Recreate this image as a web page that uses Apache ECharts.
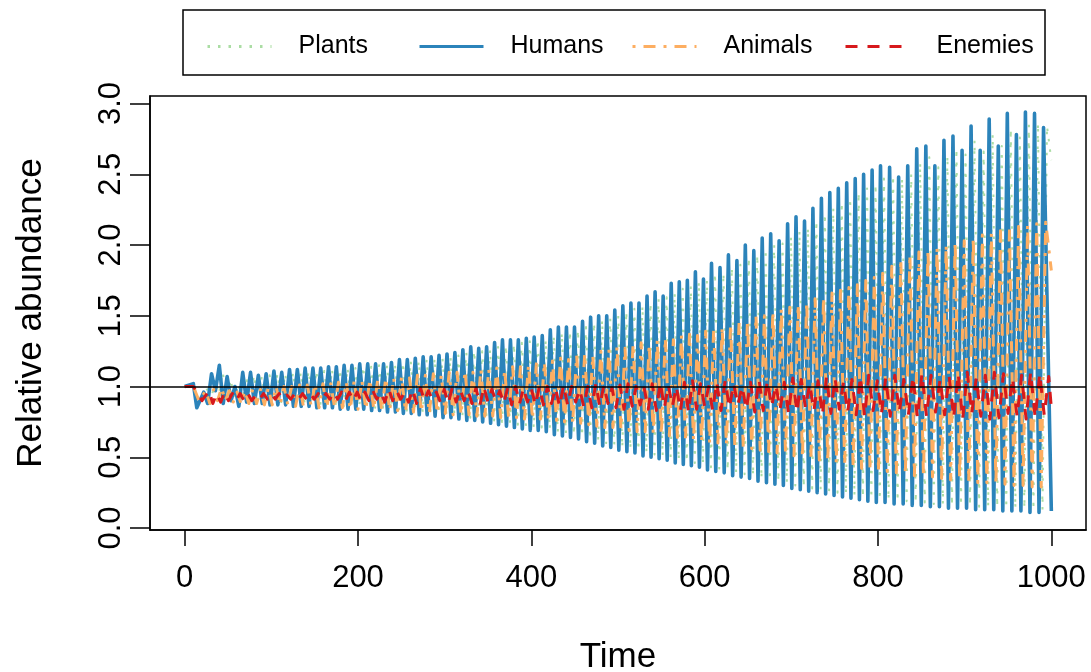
<!DOCTYPE html>
<html>
<head>
<meta charset="utf-8">
<title>Relative abundance over time</title>
<script src="https://cdn.jsdelivr.net/npm/echarts@6/dist/echarts.min.js"></script>
<style>
  html, body { margin: 0; padding: 0; background: #ffffff; }
  #chart { width: 1091px; height: 672px; }
</style>
</head>
<body>
<div id="chart"></div>
<script>
// Times of the human population peaks (one entry per cycle)
const peakTime = [
  22, 31, 40, 49, 58, 67, 76, 85, 94, 103, 112, 121, 130, 139, 148, 157, 166, 175, 184, 193, 202,
  211.2, 220.3, 229.5, 238.6, 247.8, 256.9, 266.1, 275.2, 284.4, 293.5, 302.7, 311.8, 321, 330.1, 339.3, 348.4, 357.6, 366.7, 375.9, 385, 394.2, 403.3,
  412.6, 421.9, 431.2, 440.5, 449.8, 459.1, 468.4, 477.7, 487, 496.3, 505.6, 514.9, 524.2, 533.5, 542.8, 552.1, 561.4, 570.7, 580, 589.3, 598.6, 607.9,
  617.7, 627.4, 637.2, 646.9, 656.7, 666.4, 676.2, 685.9, 695.7, 705.4, 715.2, 724.9, 734.7, 744.4, 754.2, 763.9, 773.7, 783.4, 793.2, 802.9,
  813.4, 823.8, 834.3, 844.7, 855.2, 865.6, 876.1, 886.5, 897, 907.4, 917.9, 928.3, 938.8, 949.2, 959.7, 970.1, 980.6, 991
];

// Humans: cycle maxima and the minima that precede them
const humansPeak = [
  0.96, 1.09, 1.15, 1.07, 1.0, 1.1, 1.1, 1.08, 1.09, 1.11, 1.1, 1.12, 1.12, 1.13, 1.13, 1.13, 1.14, 1.14, 1.15, 1.15, 1.16,
  1.16, 1.16, 1.16, 1.17, 1.19, 1.19, 1.2, 1.21, 1.21, 1.22, 1.23, 1.24, 1.26, 1.28, 1.27, 1.28, 1.31, 1.33, 1.33, 1.33, 1.34, 1.35,
  1.36, 1.4, 1.42, 1.42, 1.42, 1.46, 1.49, 1.5, 1.5, 1.54, 1.57, 1.59, 1.59, 1.64, 1.67, 1.64, 1.73, 1.74, 1.75, 1.81, 1.76, 1.87,
  1.84, 1.93, 1.89, 2.0, 1.96, 2.05, 2.08, 2.03, 2.15, 2.2, 2.17, 2.26, 2.33, 2.37, 2.4, 2.44, 2.47, 2.5, 2.53, 2.56,
  2.55, 2.48, 2.56, 2.68, 2.7, 2.56, 2.74, 2.77, 2.67, 2.84, 2.67, 2.89, 2.7, 2.93, 2.78, 2.94, 2.93, 2.83
];
const humansTrough = [
  0.85, 0.88, 0.97, 0.88, 0.9, 0.86, 0.89, 0.88, 0.88, 0.87, 0.87, 0.87, 0.86, 0.86, 0.86, 0.85, 0.85, 0.85, 0.84, 0.84, 0.84,
  0.84, 0.83, 0.83, 0.82, 0.82, 0.81, 0.81, 0.8, 0.8, 0.79, 0.78, 0.78, 0.77, 0.76, 0.76, 0.75, 0.74, 0.73, 0.72, 0.71, 0.7, 0.69,
  0.69, 0.68, 0.66, 0.65, 0.64, 0.63, 0.61, 0.6, 0.58, 0.57, 0.55, 0.54, 0.53, 0.51, 0.5, 0.49, 0.48, 0.46, 0.45, 0.44, 0.43, 0.41,
  0.4, 0.39, 0.37, 0.36, 0.35, 0.33, 0.32, 0.31, 0.3, 0.28, 0.27, 0.26, 0.25, 0.24, 0.23, 0.22, 0.21, 0.2, 0.19, 0.18,
  0.18, 0.17, 0.17, 0.16, 0.16, 0.15, 0.15, 0.14, 0.14, 0.14, 0.13, 0.13, 0.13, 0.12, 0.12, 0.12, 0.11, 0.11
];

// Plants
const plantsPeak = [
  0.98, 1.05, 1.1, 1.05, 1.02, 1.07, 1.08, 1.07, 1.08, 1.09, 1.09, 1.1, 1.1, 1.11, 1.11, 1.11, 1.12, 1.12, 1.13, 1.13, 1.14,
  1.14, 1.15, 1.15, 1.16, 1.17, 1.18, 1.18, 1.19, 1.2, 1.2, 1.21, 1.22, 1.24, 1.25, 1.25, 1.26, 1.28, 1.29, 1.3, 1.31, 1.32, 1.33,
  1.33, 1.36, 1.38, 1.39, 1.4, 1.42, 1.45, 1.47, 1.48, 1.5, 1.53, 1.55, 1.57, 1.59, 1.62, 1.63, 1.66, 1.69, 1.71, 1.74, 1.75, 1.8,
  1.8, 1.84, 1.86, 1.91, 1.93, 1.97, 2.0, 2.01, 2.06, 2.1, 2.12, 2.17, 2.22, 2.26, 2.3, 2.33, 2.37, 2.4, 2.43, 2.47,
  2.49, 2.47, 2.5, 2.58, 2.62, 2.55, 2.63, 2.68, 2.64, 2.74, 2.66, 2.78, 2.7, 2.82, 2.76, 2.85, 2.86, 2.84
];
const plantsTrough = [
  0.92, 0.9, 0.95, 0.9, 0.92, 0.9, 0.9, 0.9, 0.9, 0.89, 0.89, 0.89, 0.88, 0.88, 0.88, 0.87, 0.87, 0.87, 0.86, 0.86, 0.86,
  0.86, 0.85, 0.85, 0.84, 0.84, 0.83, 0.83, 0.82, 0.82, 0.81, 0.8, 0.8, 0.79, 0.78, 0.78, 0.77, 0.76, 0.75, 0.74, 0.73, 0.72, 0.71,
  0.71, 0.7, 0.68, 0.67, 0.66, 0.65, 0.63, 0.62, 0.6, 0.59, 0.57, 0.56, 0.55, 0.53, 0.52, 0.51, 0.5, 0.48, 0.47, 0.46, 0.45, 0.43,
  0.42, 0.41, 0.39, 0.38, 0.37, 0.35, 0.34, 0.33, 0.32, 0.3, 0.29, 0.28, 0.27, 0.26, 0.25, 0.24, 0.23, 0.22, 0.21, 0.2,
  0.2, 0.19, 0.19, 0.18, 0.18, 0.17, 0.17, 0.16, 0.16, 0.16, 0.15, 0.15, 0.15, 0.14, 0.14, 0.14, 0.13, 0.13
];

// Animals
const animalsPeak = [
  0.97, 0.98, 0.99, 0.97, 0.96, 0.97, 0.98, 0.98, 0.99, 1.0, 1.0, 1.0, 1.01, 1.01, 1.02, 1.02, 1.02, 1.03, 1.03, 1.04, 1.04,
  1.05, 1.05, 1.06, 1.06, 1.07, 1.06, 1.08, 1.08, 1.09, 1.08, 1.1, 1.1, 1.11, 1.1, 1.12, 1.12, 1.13, 1.12, 1.14, 1.14, 1.15, 1.16,
  1.17, 1.18, 1.2, 1.19, 1.22, 1.23, 1.22, 1.25, 1.26, 1.28, 1.27, 1.3, 1.31, 1.3, 1.33, 1.34, 1.33, 1.36, 1.37, 1.36, 1.39, 1.4,
  1.42, 1.44, 1.45, 1.47, 1.5, 1.5, 1.53, 1.55, 1.56, 1.58, 1.6, 1.62, 1.63, 1.66, 1.68, 1.7, 1.72, 1.75, 1.77, 1.8,
  1.85, 1.9, 1.93, 1.95, 1.97, 1.98, 2.0, 2.02, 2.03, 2.05, 2.07, 2.08, 2.1, 2.11, 2.13, 2.14, 2.15, 2.16
];
const animalsTrough = [
  0.9, 0.88, 0.9, 0.9, 0.89, 0.88, 0.88, 0.88, 0.87, 0.87, 0.87, 0.87, 0.86, 0.86, 0.86, 0.85, 0.85, 0.85, 0.85, 0.84, 0.84,
  0.84, 0.84, 0.83, 0.83, 0.83, 0.82, 0.82, 0.82, 0.81, 0.81, 0.81, 0.8, 0.8, 0.8, 0.79, 0.79, 0.79, 0.78, 0.78, 0.78, 0.77, 0.77,
  0.77, 0.76, 0.76, 0.75, 0.74, 0.74, 0.73, 0.72, 0.71, 0.71, 0.7, 0.69, 0.68, 0.68, 0.67, 0.66, 0.65, 0.64, 0.63, 0.62, 0.61, 0.6,
  0.6, 0.59, 0.58, 0.57, 0.56, 0.55, 0.54, 0.53, 0.52, 0.51, 0.5, 0.49, 0.48, 0.47, 0.46, 0.45, 0.43, 0.42, 0.41, 0.4,
  0.4, 0.39, 0.38, 0.37, 0.36, 0.36, 0.35, 0.34, 0.34, 0.33, 0.32, 0.32, 0.31, 0.31, 0.3, 0.3, 0.29, 0.29
];

// Enemies
const enemiesPeak = [
  0.97, 0.95, 0.96, 0.95, 0.95, 0.95, 0.94, 0.95, 0.95, 0.95, 0.94, 0.95, 0.95, 0.95, 0.95, 0.95, 0.96, 0.96, 0.96, 0.96, 0.96,
  0.97, 0.96, 0.98, 0.97, 0.96, 0.98, 0.99, 0.97, 0.96, 0.98, 0.99, 0.98, 0.97, 0.99, 1.0, 0.98, 0.97, 0.99, 1.0, 0.99, 0.98, 1.0,
  1.0, 0.99, 1.01, 1.0, 0.98, 1.0, 1.02, 1.01, 0.99, 1.01, 1.02, 1.0, 0.99, 1.02, 1.03, 1.01, 1.0, 1.03, 1.04, 1.02, 1.0, 1.03,
  1.04, 1.02, 1.0, 1.03, 1.05, 1.04, 1.01, 1.03, 1.06, 1.05, 1.02, 1.04, 1.07, 1.06, 1.03, 1.05, 1.07, 1.08, 1.04, 1.06,
  1.08, 1.05, 1.07, 1.09, 1.08, 1.05, 1.07, 1.09, 1.1, 1.06, 1.08, 1.1, 1.09, 1.06, 1.08, 1.1, 1.09, 1.07
];
const enemiesTrough = [
  0.9, 0.88, 0.89, 0.9, 0.9, 0.9, 0.9, 0.91, 0.91, 0.91, 0.91, 0.91, 0.91, 0.91, 0.91, 0.91, 0.91, 0.91, 0.9, 0.9, 0.9,
  0.9, 0.91, 0.89, 0.9, 0.91, 0.89, 0.88, 0.9, 0.91, 0.89, 0.88, 0.89, 0.9, 0.88, 0.87, 0.89, 0.9, 0.88, 0.87, 0.88, 0.89, 0.87,
  0.87, 0.88, 0.86, 0.87, 0.89, 0.86, 0.85, 0.86, 0.88, 0.85, 0.84, 0.86, 0.87, 0.84, 0.83, 0.85, 0.86, 0.83, 0.82, 0.84, 0.86, 0.83,
  0.83, 0.85, 0.87, 0.84, 0.82, 0.83, 0.86, 0.84, 0.81, 0.82, 0.85, 0.83, 0.8, 0.81, 0.84, 0.82, 0.8, 0.79, 0.83, 0.81,
  0.79, 0.82, 0.8, 0.78, 0.79, 0.82, 0.8, 0.78, 0.77, 0.81, 0.79, 0.77, 0.78, 0.81, 0.79, 0.77, 0.78, 0.8
];

// Value at t = 10 (after the flat start at 1.0) and at t = 1000
const startValue = { Plants: 1.0, Humans: 1.02, Animals: 1.0, Enemies: 1.0 };
const endValue = { Plants: 2.6, Humans: 0.12, Animals: 1.82, Enemies: 0.85 };

const yTicks = [0, 0.5, 1, 1.5, 2, 2.5, 3];
const xTicks = [0, 200, 400, 600, 800, 1000];

// Each cycle: the minimum sits halfway between two maxima; a series may lag the human cycle.
function cycleLine(peaks, troughs, lag, name) {
  const pts = [[0, 1.0], [10, startValue[name]]];
  for (let i = 0; i < peakTime.length; i++) {
    const tTrough = (i === 0 ? 14 : (peakTime[i - 1] + peakTime[i]) / 2) + lag;
    const tPeak = peakTime[i] + lag;
    if (tTrough > 10 && tTrough < 1000) pts.push([tTrough, troughs[i]]);
    if (tPeak < 1000) pts.push([tPeak, peaks[i]]);
  }
  pts.push([1000, endValue[name]]);
  return pts;
}

const FONT = '"Liberation Sans", Arial, Helvetica, sans-serif';
const colors = { Plants: '#abdda4', Humans: '#2b83ba', Animals: '#fdae61', Enemies: '#d7191c' };

const chart = echarts.init(document.getElementById('chart'), null, { renderer: 'canvas' });

// One legend block per series so that each key sits in its own fixed slot
function legendFor(name, left) {
  return {
    data: [name],
    left: left,
    top: 34,
    itemWidth: 64,
    itemHeight: 16,
    padding: 0,
    selectedMode: false,
    itemStyle: { opacity: 0 },
    lineStyle: { width: 3 },
    textStyle: { fontFamily: FONT, fontSize: 25, color: '#000', padding: [0, 0, 0, 22] }
  };
}

chart.setOption({
  animation: false,
  backgroundColor: '#ffffff',
  textStyle: { fontFamily: FONT },
  grid: {
    left: 150, right: 5, top: 96, bottom: 142,
    outerBoundsMode: 'none',
    show: true, borderColor: '#000', borderWidth: 1.5, backgroundColor: 'transparent'
  },
  legend: [
    legendFor('Plants', 206),
    legendFor('Humans', 418),
    legendFor('Animals', 631),
    legendFor('Enemies', 844)
  ],
  graphic: [{
    type: 'rect',
    shape: { x: 183, y: 10, width: 862, height: 65 },
    style: { fill: 'none', stroke: '#000', lineWidth: 1.5 },
    z: 100
  }],
  xAxis: {
    type: 'value',
    min: -40, max: 1040,
    name: 'Time',
    nameLocation: 'middle',
    nameGap: 110,
    nameTextStyle: { fontFamily: FONT, fontSize: 35, color: '#000' },
    axisLine: { show: true, onZero: false, lineStyle: { color: '#000', width: 1.5 } },
    axisTick: { show: true, customValues: xTicks, length: 16, lineStyle: { color: '#000', width: 1.5 } },
    axisLabel: {
      customValues: xTicks, margin: 33, fontFamily: FONT, fontSize: 31, color: '#000',
      formatter: v => String(v)
    },
    splitLine: { show: false }
  },
  yAxis: {
    type: 'value',
    min: -0.014, max: 3.053,
    name: 'Relative abundance',
    nameLocation: 'middle',
    nameGap: 101,
    nameTextStyle: { fontFamily: FONT, fontSize: 35, color: '#000' },
    axisLine: { show: true, onZero: false, lineStyle: { color: '#000', width: 1.5 } },
    axisTick: { show: true, customValues: yTicks, length: 20, lineStyle: { color: '#000', width: 1.5 } },
    axisLabel: {
      customValues: yTicks, rotate: 90, margin: 23,
      fontFamily: FONT, fontSize: 31, color: '#000',
      formatter: v => v.toFixed(1)
    },
    splitLine: { show: false }
  },
  series: [
    {
      name: 'Plants', type: 'line', symbol: 'none', z: 1,
      data: cycleLine(plantsPeak, plantsTrough, 4, 'Plants'),
      itemStyle: { color: colors.Plants },
      lineStyle: { color: colors.Plants, width: 2, type: [2.5, 8], join: 'round' }
    },
    {
      name: 'Humans', type: 'line', symbol: 'none', z: 2,
      data: cycleLine(humansPeak, humansTrough, 0, 'Humans'),
      itemStyle: { color: colors.Humans },
      lineStyle: { color: colors.Humans, width: 3.6, type: 'solid', join: 'round' }
    },
    {
      name: 'Animals', type: 'line', symbol: 'none', z: 3,
      data: cycleLine(animalsPeak, animalsTrough, 2.5, 'Animals'),
      itemStyle: { color: colors.Animals },
      lineStyle: { color: colors.Animals, width: 3, type: [3, 8, 12, 8], join: 'round' }
    },
    {
      name: 'Enemies', type: 'line', symbol: 'none', z: 4,
      data: cycleLine(enemiesPeak, enemiesTrough, 6, 'Enemies'),
      itemStyle: { color: colors.Enemies },
      lineStyle: { color: colors.Enemies, width: 3, type: [12, 10], join: 'round' },
      markLine: {
        silent: true,
        symbol: ['none', 'none'],
        label: { show: false },
        lineStyle: { color: '#000', width: 1.5, type: 'solid' },
        data: [{ yAxis: 1 }]
      }
    }
  ]
});
</script>
</body>
</html>
